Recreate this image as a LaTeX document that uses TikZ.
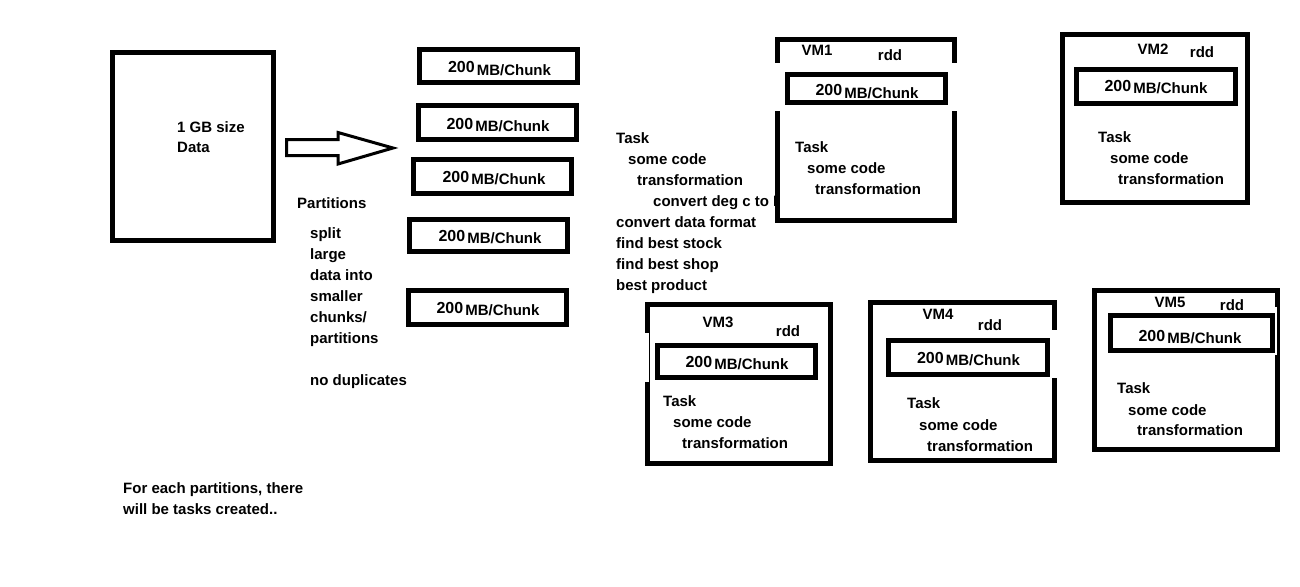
\documentclass[tikz,border=0pt]{standalone}
\usepackage{fontspec}
\setmainfont{Liberation Sans}
\begin{document}
\begin{tikzpicture}[x=1pt,y=-1pt,
  box/.style={draw, line width=5pt, fill=white, inner sep=0pt},
  txt/.style={anchor=base west, inner sep=0pt, font=\fontsize{15}{18}\selectfont\bfseries},
  ctxt/.style={anchor=base, inner sep=0pt, font=\fontsize{15}{18}\selectfont\bfseries},
  gap/.style={fill=white, draw=none}]
\useasboundingbox[fill=white] (0,0) rectangle (1300,586);
\newcommand{\chunktext}{\raisebox{2pt}{\fontsize{16}{16}\selectfont 200}\hspace{2pt}MB/Chunk}

% big data box
\node[box, minimum width=161pt, minimum height=187pt] (data) at (192.5,146.5) {};
\node[txt] (d1) at (177,132) {1 GB size};
\node[txt] (d2) at (177,152) {Data};

% block arrow
\draw[line width=3pt, line join=miter, fill=white] (286.5,139.5) -- (338,139.5) -- (338,132.5) -- (393,148) -- (338,164) -- (338,155.5) -- (286.5,155.5) -- cycle;

% chunks
\node[box, minimum width=158pt, minimum height=33pt] (c1) at (498.5,66) {};
\node[box, minimum width=158pt, minimum height=34pt] (c2) at (497.5,122.5) {};
\node[box, minimum width=158pt, minimum height=34pt] (c3) at (492.5,176.5) {};
\node[box, minimum width=158pt, minimum height=32pt] (c4) at (488.5,235.5) {};
\node[box, minimum width=158pt, minimum height=34pt] (c5) at (487.5,307.5) {};
\node[ctxt] (c1t) at (499.5,75) {\chunktext};
\node[ctxt] (c2t) at (498,131) {\chunktext};
\node[ctxt] (c3t) at (494,184) {\chunktext};
\node[ctxt] (c4t) at (490,243) {\chunktext};
\node[ctxt] (c5t) at (488,315) {\chunktext};

% partitions text
\node[txt] (p0) at (297,208) {Partitions};
\node[txt] (p1) at (310,238) {split};
\node[txt] (p2) at (310,259) {large};
\node[txt] (p3) at (310,280) {data into};
\node[txt] (p4) at (310,301) {smaller};
\node[txt] (p5) at (310,322) {chunks/};
\node[txt] (p6) at (310,343) {partitions};
\node[txt] (p7) at (310,385) {no duplicates};

% bottom note
\node[txt] (n1) at (123,493) {For each partitions, there};
\node[txt] (n2) at (123,514) {will be tasks created..};

% middle task list
\node[txt] (m1) at (616,143) {Task};
\node[txt] (m2) at (628,164) {some code};
\node[txt] (m3) at (637,185) {transformation};
\node[txt] (m4) at (653,206) {convert deg c to F};
\node[txt] (m5) at (616,227) {convert data format};
\node[txt] (m6) at (616,248) {find best stock};
\node[txt] (m7) at (616,269) {find best shop};
\node[txt] (m8) at (616,290) {best product};

% VM1
\node[box, minimum width=177pt, minimum height=181pt] (vm1) at (866,130) {};
\fill[gap] (770,63) rectangle (962,111);
\node[box, minimum width=158pt, minimum height=28pt] (vm1c) at (866.5,88.5) {};
\node[ctxt] (vm1ct) at (867,98) {\chunktext};
\node[ctxt] (vm1l) at (817,56) {VM1};
\node[ctxt] (vm1r) at (890,60) {rdd};
\node[txt] (vm1a) at (795,152) {Task};
\node[txt] (vm1b) at (807,173) {some code};
\node[txt] (vm1d) at (815,194) {transformation};

% VM2
\node[box, minimum width=185pt, minimum height=168pt] (vm2) at (1155,118.5) {};
\node[box, minimum width=159pt, minimum height=34pt] (vm2c) at (1156,86.5) {};
\node[ctxt] (vm2ct) at (1156,93) {\chunktext};
\node[ctxt] (vm2l) at (1153,55) {VM2};
\node[ctxt] (vm2r) at (1202,58) {rdd};
\node[txt] (vm2a) at (1098,142) {Task};
\node[txt] (vm2b) at (1110,163) {some code};
\node[txt] (vm2d) at (1118,184) {transformation};

% VM3
\node[box, minimum width=183pt, minimum height=159pt] (vm3) at (739,384) {};
\fill[gap] (644,333) rectangle (648.5,382);
\node[box, minimum width=158pt, minimum height=32pt] (vm3c) at (736.5,361.5) {};
\node[ctxt] (vm3ct) at (737,369) {\chunktext};
\node[ctxt] (vm3l) at (718,327) {VM3};
\node[ctxt] (vm3r) at (788,336) {rdd};
\node[txt] (vm3a) at (663,406) {Task};
\node[txt] (vm3b) at (673,427) {some code};
\node[txt] (vm3d) at (682,448) {transformation};

% VM4
\node[box, minimum width=184pt, minimum height=158pt] (vm4) at (962.5,381.5) {};
\fill[gap] (1045,330) rectangle (1062,378);
\node[box, minimum width=159pt, minimum height=34pt] (vm4c) at (968,357.5) {};
\node[ctxt] (vm4ct) at (968.5,365) {\chunktext};
\node[ctxt] (vm4l) at (938,319) {VM4};
\node[ctxt] (vm4r) at (990,330) {rdd};
\node[txt] (vm4a) at (907,408) {Task};
\node[txt] (vm4b) at (919,430) {some code};
\node[txt] (vm4d) at (927,451) {transformation};

% VM5
\node[box, minimum width=183pt, minimum height=159pt] (vm5) at (1186,370) {};
\fill[gap] (1274.5,307) rectangle (1277,355);
\node[box, minimum width=162pt, minimum height=35pt] (vm5c) at (1191.5,333) {};
\node[ctxt] (vm5ct) at (1190,343) {\chunktext};
\node[ctxt] (vm5l) at (1170,307) {VM5};
\node[ctxt] (vm5r) at (1232,310) {rdd};
\node[txt] (vm5a) at (1117,393) {Task};
\node[txt] (vm5b) at (1128,415) {some code};
\node[txt] (vm5d) at (1137,435) {transformation};
\end{tikzpicture}
\end{document}
